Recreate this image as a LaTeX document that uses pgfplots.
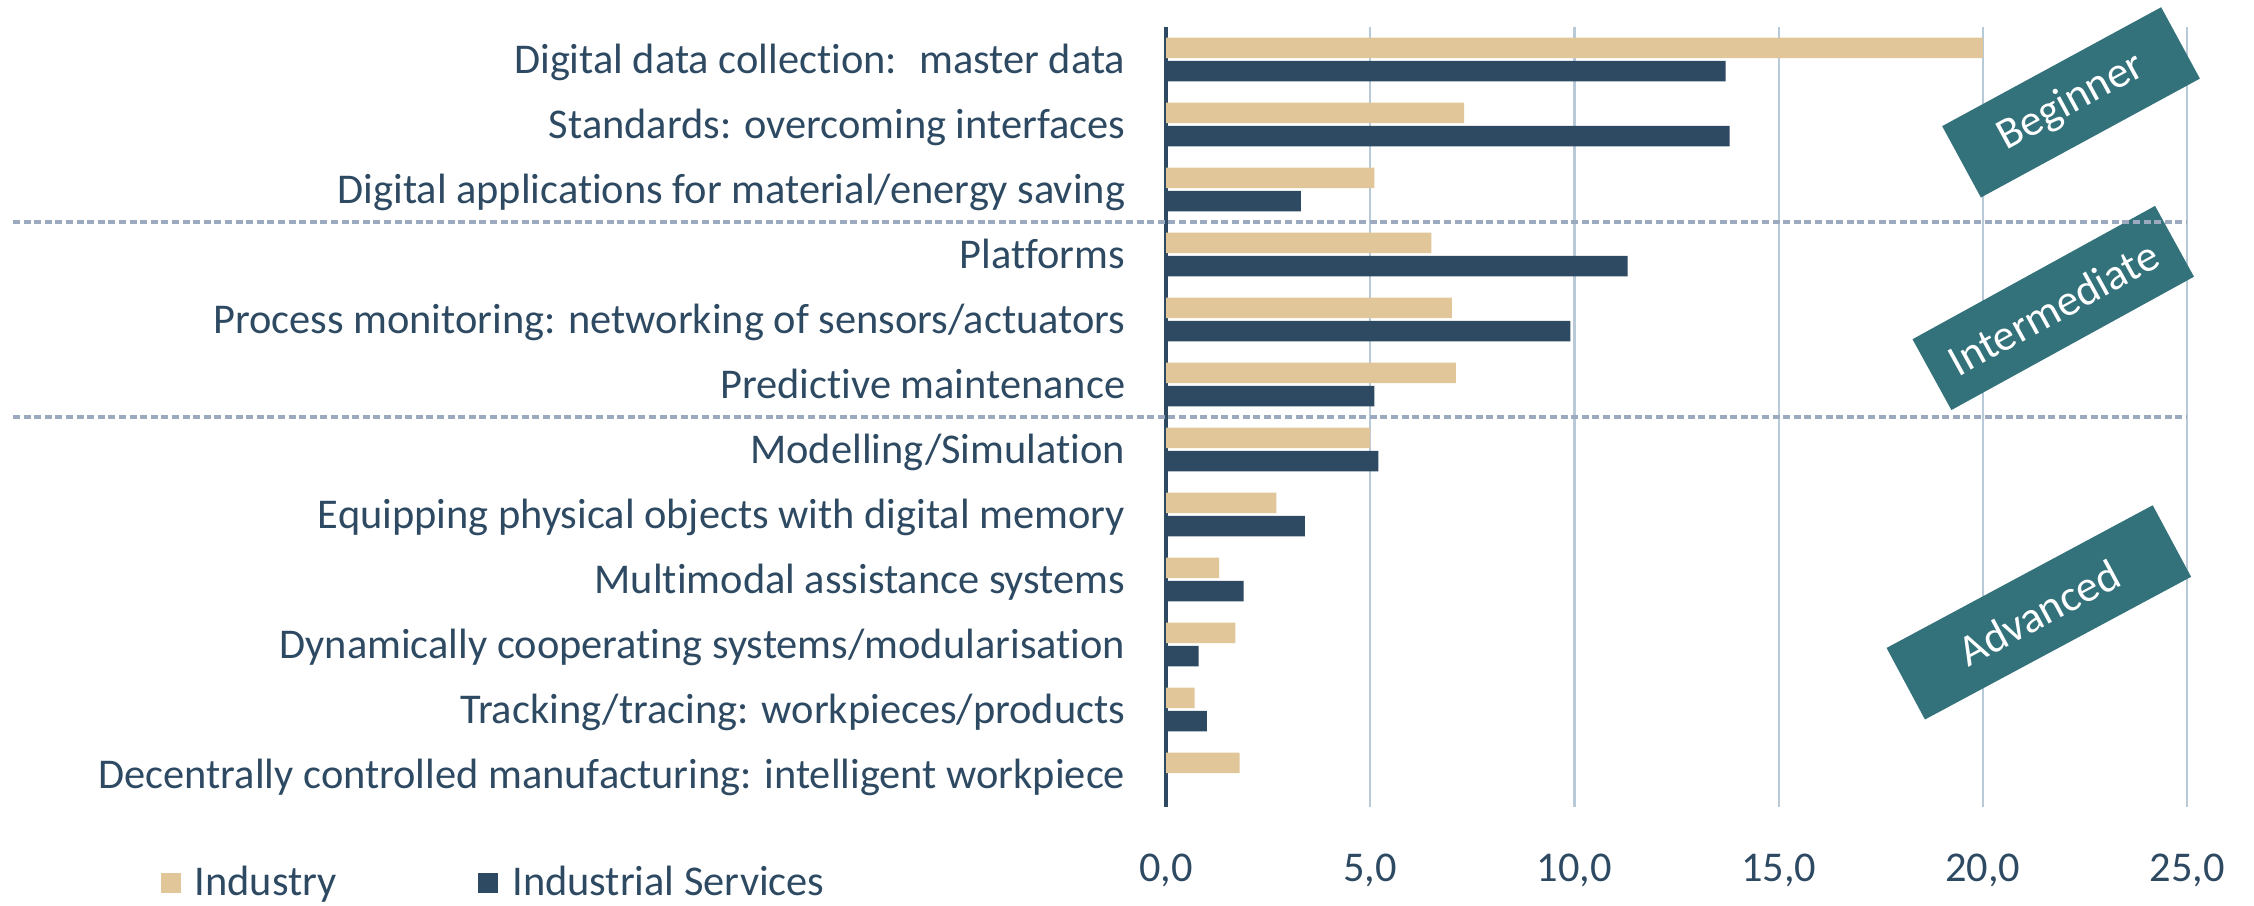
\documentclass[border=0pt]{standalone}
\usepackage{fontspec}
\setmainfont{Carlito}[Ligatures={NoCommon}]
\usepackage{pgfplots}
\pgfplotsset{compat=1.18}
\definecolor{navy}{HTML}{2E4A63}
\definecolor{tanc}{HTML}{E0C699}
\definecolor{gridc}{HTML}{B8C9D8}
\definecolor{dashc}{HTML}{9BAABE}
\definecolor{tagc}{HTML}{33727B}
\newcommand{\lf}{\fontsize{10.6}{12.7}\selectfont}
\begin{document}
\begin{tikzpicture}
\path[use as bounding box] (0,0) rectangle (563.5pt,226.5pt);
\begin{axis}[
  at={(291.5pt,24.75pt)}, anchor=south west,
  scale only axis, width=255.25pt, height=195pt,
  xbar, xmin=0, xmax=25, ymin=-0.5, ymax=11.5, y dir=reverse,
  ytick={0,...,11},
  yticklabels={
    Digital data collection:~ master data,
    Standards: overcoming interfaces,
    Digital applications for material/energy saving,
    Platforms,
    Process monitoring: networking of sensors/actuators,
    Predictive maintenance,
    Modelling/Simulation,
    Equipping physical objects with digital memory,
    Multimodal assistance systems,
    Dynamically cooperating systems/modularisation,
    Tracking/tracing: workpieces/products,
    Decentrally controlled manufacturing: intelligent workpiece},
  xtick={0,5,10,15,20,25},
  xmajorgrids, grid style={gridc, line width=0.55pt},
  axis x line*=bottom, axis y line*=left,
  x axis line style={draw=none},
  y axis line style={navy, line width=0.8pt},
  major tick length=0pt, tick style={draw=none},
  xticklabel style={anchor=base, yshift=-18.5pt, font=\lf, text=navy},
  yticklabel style={anchor=base east, inner sep=0pt, xshift=-10pt, yshift=-3.4pt, font=\lf, text=navy},
  /pgf/number format/fixed, /pgf/number format/fixed zerofill,
  /pgf/number format/precision=1, /pgf/number format/use comma,
  /pgf/number format/assume math mode=true,
  clip=false,
  legend columns=2,
  legend image code/.code={\fill[#1] (0pt,0.75pt) rectangle (5pt,5.75pt);},
  legend style={at={(axis description cs:-0.9853,-0.0988)}, anchor=west,
    draw=none, fill=none, inner sep=0pt, font=\lf, text=navy,
    nodes={inner sep=0pt, anchor=base},
    /tikz/every odd column/.append style={column sep=3.5pt},
    /tikz/every even column/.append style={column sep=35.4pt}},
]
\addplot[fill=tanc, draw=none, bar width=0.315, bar shift=-0.18] coordinates {
  (20.0,0) (7.3,1) (5.1,2) (6.5,3) (7.0,4) (7.1,5)
  (5.0,6) (2.7,7) (1.3,8) (1.7,9) (0.7,10) (1.8,11)};
\addlegendentry{Industry}
\addplot[fill=navy, draw=none, bar width=0.315, bar shift=0.18] coordinates {
  (13.7,0) (13.8,1) (3.3,2) (11.3,3) (9.9,4) (5.1,5)
  (5.2,6) (3.4,7) (1.9,8) (0.8,9) (1.0,10) (0.0,11)};
\addlegendentry{Industrial Services}
\end{axis}
\node[fill=tagc, text=white, rotate=28.5, minimum width=62.3pt, minimum height=20.3pt, inner sep=0pt, font=\fontsize{11}{13}\selectfont] at (517.75pt,200.9pt) {Beginner};
\node[fill=tagc, text=white, rotate=28.8, minimum width=69.2pt, minimum height=20.2pt, inner sep=0pt, font=\fontsize{11}{13}\selectfont] at (513.3pt,149.5pt) {Intermediate};
\node[fill=tagc, text=white, rotate=28.2, minimum width=75.5pt, minimum height=20.3pt, inner sep=0pt, font=\fontsize{11}{13}\selectfont] at (509.7pt,73.4pt) {Advanced};
\draw[dashc, line width=0.85pt, dash pattern=on 1.75pt off 0.9pt] (3.25pt,171pt) -- (546.75pt,171pt);
\draw[dashc, line width=0.85pt, dash pattern=on 1.75pt off 0.9pt] (3.25pt,122.25pt) -- (546.75pt,122.25pt);
\end{tikzpicture}
\end{document}
